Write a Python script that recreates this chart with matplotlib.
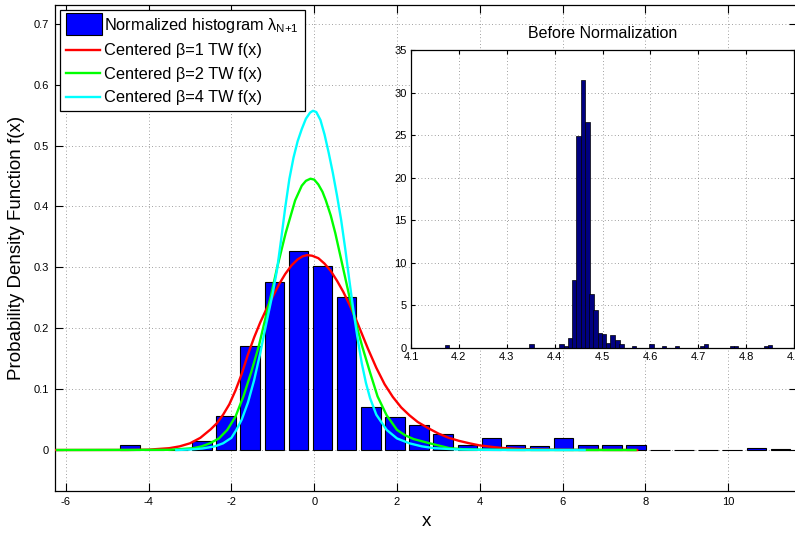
import matplotlib
matplotlib.use('Agg')
import matplotlib.pyplot as plt
from matplotlib.patches import Rectangle
from matplotlib.lines import Line2D
from matplotlib.legend_handler import HandlerPatch

plt.rcParams['font.family'] = ['Liberation Sans', 'DejaVu Sans']
plt.rcParams['mathtext.fontset'] = 'custom'
plt.rcParams['mathtext.rm'] = 'Liberation Sans'
plt.rcParams['mathtext.it'] = 'Liberation Sans'
plt.rcParams['axes.unicode_minus'] = False

# ---------------- data ----------------
hist_centers = [-4.45, -3.87, -3.29, -2.71, -2.13, -1.55, -0.96, -0.38, 0.20, 0.78,
                1.37, 1.95, 2.53, 3.11, 3.70, 4.28, 4.86, 5.44, 6.02, 6.61,
                7.19, 7.77, 8.35, 8.93, 9.51, 10.09, 10.68, 11.26]
hist_heights = [0.008, 0.0, 0.0, 0.015, 0.056, 0.170, 0.276, 0.327, 0.302, 0.251,
                0.071, 0.054, 0.041, 0.026, 0.009, 0.019, 0.008, 0.007, 0.020, 0.008,
                0.008, 0.008, 0.0, 0.0, 0.0, 0.0, 0.003, 0.002]

red_x = [-6.5, -4.5, -4.0, -3.5, -3.25, -3.0, -2.75, -2.5, -2.35, -2.2, -2.05, -1.9,
         -1.75, -1.6, -1.45, -1.3, -1.15, -1.0, -0.85, -0.7, -0.55, -0.4, -0.28, -0.17,
         -0.05, 0.1, 0.25, 0.4, 0.55, 0.7, 0.85, 1.0, 1.15, 1.3, 1.5, 1.7, 1.9, 2.1,
         2.3, 2.5, 2.75, 3.0, 3.25, 3.5, 3.75, 4.0, 4.5, 5.0, 6.0, 7.8]
red_y = [0.0, 0.0001, 0.0006, 0.003, 0.006, 0.011, 0.020, 0.034, 0.044, 0.058, 0.075,
         0.098, 0.125, 0.157, 0.185, 0.210, 0.232, 0.252, 0.272, 0.289, 0.303, 0.313,
         0.318, 0.320, 0.319, 0.315, 0.306, 0.294, 0.278, 0.260, 0.239, 0.216, 0.191,
         0.166, 0.135, 0.108, 0.087, 0.070, 0.057, 0.046, 0.036, 0.027, 0.020, 0.015,
         0.011, 0.0075, 0.0035, 0.0015, 0.0003, 0.0]

green_x = [-6.21, -3.5, -2.92, -2.72, -2.52, -2.3, -2.1, -1.9, -1.71, -1.52, -1.34,
           -1.2, -1.05, -0.89, -0.69, -0.46, -0.3, -0.2, -0.09, 0.0, 0.1, 0.2, 0.28,
           0.4, 0.51, 0.69, 0.85, 1.0, 1.16, 1.35, 1.53, 1.75, 2.0, 2.2, 2.4, 2.79,
           3.0, 3.27, 3.6, 4.0, 5.0, 7.76]
green_y = [0.0, 0.0003, 0.003, 0.006, 0.011, 0.019, 0.033, 0.055, 0.088, 0.128, 0.170,
           0.210, 0.252, 0.301, 0.356, 0.410, 0.434, 0.442, 0.4455, 0.444, 0.436,
           0.424, 0.410, 0.385, 0.356, 0.301, 0.252, 0.210, 0.170, 0.127, 0.088,
           0.057, 0.033, 0.024, 0.018, 0.011, 0.0075, 0.003, 0.0013, 0.0006, 0.0001,
           0.0]

cyan_x = [-3.33, -3.0, -2.7, -2.4, -2.2, -2.0, -1.88, -1.75, -1.6, -1.45, -1.3, -1.15,
          -1.0, -0.9, -0.8, -0.7, -0.6, -0.5, -0.4, -0.3, -0.2, -0.1, -0.03, 0.05,
          0.15, 0.25, 0.35, 0.45, 0.55, 0.65, 0.75, 0.85, 0.95, 1.05, 1.15, 1.25,
          1.35, 1.5, 1.75, 2.0, 2.3, 2.6, 2.9, 3.5, 4.5, 6.53]
cyan_y = [0.0, 0.0008, 0.0025, 0.006, 0.011, 0.020, 0.033, 0.050, 0.078, 0.115, 0.160,
          0.210, 0.258, 0.295, 0.345, 0.398, 0.445, 0.480, 0.507, 0.527, 0.544, 0.554,
          0.557, 0.555, 0.542, 0.518, 0.488, 0.455, 0.418, 0.378, 0.330, 0.278,
          0.228, 0.182, 0.142, 0.110, 0.085, 0.058, 0.033, 0.019, 0.011, 0.006,
          0.003, 0.0008, 0.0001, 0.0]

inset_centers = [4.175, 4.352, 4.4146, 4.424, 4.4327, 4.441, 4.450, 4.459, 4.4685,
                 4.477, 4.4858, 4.4944, 4.503, 4.512, 4.521, 4.531, 4.540, 4.566,
                 4.602, 4.6285, 4.6556, 4.708, 4.7167, 4.771, 4.779, 4.8417, 4.850]
inset_heights = [0.3, 0.5, 0.5, 0.2, 1.2, 8.0, 24.9, 31.5, 26.6, 6.3, 4.5, 1.8, 1.6,
                 0.6, 1.5, 0.9, 0.5, 0.2, 0.5, 0.2, 0.2, 0.2, 0.5, 0.2, 0.2, 0.2, 0.3]

main_xticks = [-6, -4, -2, 0, 2, 4, 6, 8, 10]
main_yticks = [0, 0.1, 0.2, 0.3, 0.4, 0.5, 0.6, 0.7]
main_yticklabels = ['0', '0.1', '0.2', '0.3', '0.4', '0.5', '0.6', '0.7']
inset_xticks = [4.1, 4.2, 4.3, 4.4, 4.5, 4.6, 4.7, 4.8, 4.9]
inset_xticklabels = ['4.1', '4.2', '4.3', '4.4', '4.5', '4.6', '4.7', '4.8', '4.9']
inset_yticks = [0, 5, 10, 15, 20, 25, 30, 35]

labels = [r'Normalized histogram $\lambda_{\mathrm{N{+}1}}$',
          'Centered β=1 TW f(x)', 'Centered β=2 TW f(x)', 'Centered β=4 TW f(x)']

# ---------------- figure ----------------
W, H = 795, 533
fig = plt.figure(figsize=(W / 100, H / 100), dpi=100)
ax = fig.add_axes([55 / W, 42 / H, 742 / W, 486 / H])

ax.bar(hist_centers, hist_heights, width=0.47, color='#0000ff', edgecolor='black',
       linewidth=0.8, zorder=2)
ax.plot(red_x, red_y, color='#ff0000', lw=1.7, zorder=3)
ax.plot(green_x, green_y, color='#00ff00', lw=1.7, zorder=4)
ax.plot(cyan_x, cyan_y, color='#00ffff', lw=1.7, zorder=5)

ax.set_xlim(-6.26, 11.66)
ax.set_ylim(-0.0673, 0.7307)
ax.set_xticks(main_xticks)
ax.set_yticks(main_yticks)
ax.set_yticklabels(main_yticklabels)
ax.grid(True, linestyle=(0, (1, 3)), color='0.5', lw=0.6)
ax.set_axisbelow(True)
ax.tick_params(direction='in', top=True, right=True, length=5.5, width=0.8,
               labelsize=8, pad=4.5)
for s in ax.spines.values():
    s.set_linewidth(0.9)
ax.set_xlabel('x', fontsize=13.5, labelpad=4)
ax.set_ylabel('Probability Density Function f(x)', fontsize=13.5, labelpad=6)


class BigPatch(HandlerPatch):
    def create_artists(self, legend, orig_handle, xdescent, ydescent, width, height,
                       fontsize, trans):
        p = Rectangle((-xdescent, -ydescent - 0.45 * height), width * 1.06, height * 1.9,
                      facecolor='#0000ff', edgecolor='black', lw=0.8, transform=trans)
        return [p]


h_patch = Rectangle((0, 0), 1, 1, facecolor='#0000ff', edgecolor='black')
h_red = Line2D([], [], color='#ff0000', lw=1.7)
h_green = Line2D([], [], color='#00ff00', lw=1.7)
h_cyan = Line2D([], [], color='#00ffff', lw=1.7)
leg = ax.legend([h_patch, h_red, h_green, h_cyan], labels,
                handler_map={Rectangle: BigPatch()},
                loc='upper left', bbox_to_anchor=(60 / W, 1 - 10 / H),
                bbox_transform=fig.transFigure, borderaxespad=0, fontsize=11.8,
                handlelength=2.1, handletextpad=0.25, labelspacing=0.52,
                borderpad=0.35, fancybox=False, framealpha=1, edgecolor='black')
leg.get_frame().set_linewidth(0.9)
leg.set_zorder(10)

# ---------------- inset ----------------
ax2 = fig.add_axes([411 / W, (H - 348) / H, 383 / W, 298 / H])
ax2.bar(inset_centers, inset_heights, width=0.0092, color='#000080', edgecolor='black',
        linewidth=0.5, zorder=2)
ax2.set_xlim(4.1, 4.9)
ax2.set_ylim(0, 35)
ax2.set_xticks(inset_xticks)
ax2.set_xticklabels(inset_xticklabels)
ax2.set_yticks(inset_yticks)
ax2.grid(True, linestyle=(0, (1, 3)), color='0.5', lw=0.6)
ax2.set_axisbelow(True)
ax2.tick_params(direction='in', top=True, right=True, length=3, width=0.8,
                labelsize=8, pad=3)
for s in ax2.spines.values():
    s.set_linewidth(0.9)
ax2.set_title('Before Normalization', fontsize=11.5, pad=9)

fig.savefig('out.png', dpi=100)
